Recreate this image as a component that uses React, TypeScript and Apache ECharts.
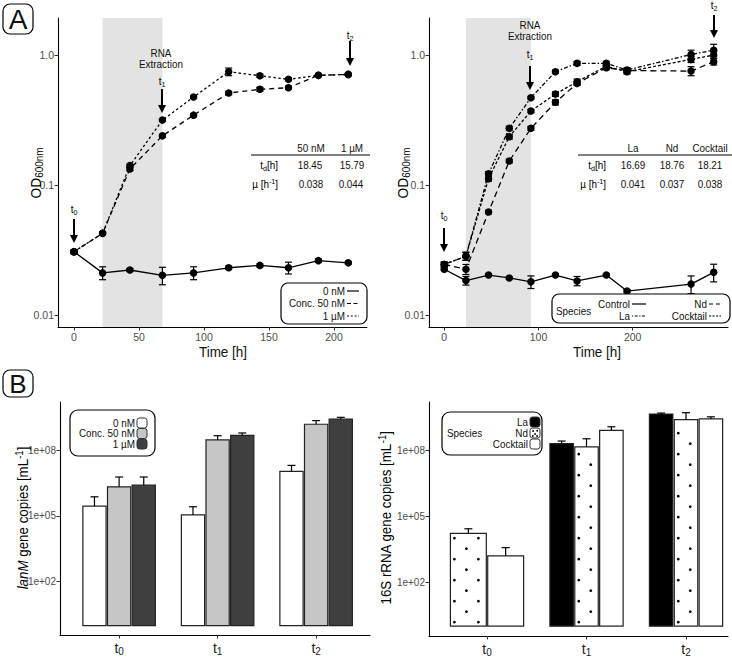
import React, { useEffect, useRef } from 'react';
import * as echarts from 'echarts';

const FONT = '"Liberation Sans", Arial, Helvetica, sans-serif';

// ---------- Panel A (left): OD600 by lanthanide concentration ----------
const timeConc = [0, 22, 43, 68, 92, 119, 143, 165, 188, 211];
const od0nM = [0.0307, 0.0211, 0.0222, 0.0202, 0.0211, 0.0231, 0.0241, 0.0231, 0.0262, 0.0252];
const sd0nM = [0.0006, 0.0024, 0.0006, 0.0031, 0.0024, 0.0007, 0.0006, 0.0024, 0.0008, 0.0005];
const od50nM = [0.0307, 0.0425, 0.133, 0.239, 0.345, 0.51, 0.545, 0.561, 0.698, 0.71];
const sd50nM = [0.001, 0.001, 0.004, 0.006, 0.01, 0.015, 0.02, 0.015, 0.012, 0.012];
const od1uM = [0.0307, 0.0425, 0.141, 0.316, 0.475, 0.744, 0.693, 0.65, 0.698, 0.71];
const sd1uM = [0.001, 0.001, 0.004, 0.006, 0.01, 0.05, 0.02, 0.015, 0.012, 0.012];
const shadeConc = [22, 68];

// ---------- Panel A (right): OD600 by lanthanide species ----------
const timeSpecies = [0, 23, 47, 69, 92, 118, 141, 172, 194, 262, 286];
const odControl = [0.0225, 0.0184, 0.0203, 0.0193, 0.018, 0.0203, 0.0183, 0.0203, 0.0153, 0.0173, 0.0213];
const sdControl = [0.0005, 0.0014, 0.0005, 0.0004, 0.002, 0.0005, 0.0015, 0.0004, 0.0004, 0.0027, 0.0033];
const odLa = [0.0245, 0.0284, 0.122, 0.273, 0.47, 0.744, 0.863, 0.863, 0.767, 1.01, 1.09];
const sdLa = [0.001, 0.002, 0.005, 0.01, 0.01, 0.02, 0.03, 0.03, 0.03, 0.08, 0.12];
const odNd = [0.0245, 0.0225, 0.062, 0.153, 0.273, 0.433, 0.605, 0.8, 0.76, 0.753, 0.888];
const sdNd = [0.001, 0.002, 0.002, 0.005, 0.01, 0.02, 0.02, 0.03, 0.03, 0.06, 0.05];
const odCocktail = [0.0245, 0.0284, 0.112, 0.235, 0.371, 0.501, 0.623, 0.82, 0.744, 0.926, 1.0];
const sdCocktail = [0.001, 0.002, 0.005, 0.01, 0.01, 0.02, 0.03, 0.03, 0.03, 0.05, 0.06];
const shadeSpecies = [23, 92];

// ---------- Panel B (left): lanM gene copies ----------
const sampleTimes = ['0', '1', '2']; // t0, t1, t2
const copies0nM = [2.8e5, 1.1e5, 1.07e7];
const copiesSd0nM = [4.6e5, 1.5e5, 0.93e7];
const copies50nM = [2.1e6, 2.9e8, 1.5e9];
const copiesSd50nM = [3.8e6, 1.6e8, 0.7e9];
const copies1uM = [2.5e6, 4.7e8, 2.6e9];
const copiesSd1uM = [3.4e6, 1.3e8, 0.5e9];

// ---------- Panel B (right): 16S rRNA gene copies ----------
const rrnaLa = [null, 2.1e8, 4.7e9];
const rrnaSdLa = [null, 0.65e8, 0.5e9];
const rrnaNd = [1.7e4, 1.5e8, 2.6e9];
const rrnaSdNd = [1.05e4, 2.0e8, 2.8e9];
const rrnaCocktail = [1.6e3, 8.5e8, 2.8e9];
const rrnaSdCocktail = [2.2e3, 3.8e8, 0.7e9];

// tables
const concHeaders = ['50 nM', '1 µM'];
const concTd = ['18.45', '15.79'];
const concMu = ['0.038', '0.044'];
const speciesHeaders = ['La', 'Nd', 'Cocktail'];
const speciesTd = ['16.69', '18.76', '18.21'];
const speciesMu = ['0.041', '0.037', '0.038'];

const lg = Math.log10;

const subRich = (fs: number) => ({
  a: { fontSize: fs, fontFamily: FONT, lineHeight: fs + 3, fill: '#000', color: '#000' },
  i: { fontSize: fs, fontFamily: FONT, fontStyle: 'italic', lineHeight: fs + 3, fill: '#000', color: '#000' },
  s: { fontSize: fs * 0.72, fontFamily: FONT, lineHeight: fs * 0.62, verticalAlign: 'bottom', fill: '#000', color: '#000' },
  sup: { fontSize: fs * 0.72, fontFamily: FONT, lineHeight: fs * 0.62, verticalAlign: 'top', fill: '#000', color: '#000' },
});

function txt(text: string, x: number, y: number, opts: any = {}, fs = 11, rotation = 0, sx = 0.9): any {
  return {
    type: 'text', x, y, rotation, scaleX: sx, silent: true, z: 100,
    style: {
      text, fontSize: fs, fontFamily: FONT, fill: '#111', align: 'center', verticalAlign: 'middle',
      rich: subRich(fs), ...opts,
    },
  };
}

function arrow(x: number, y1: number, y2: number): any[] {
  return [
    { type: 'line', silent: true, z: 100, shape: { x1: x, y1, x2: x, y2: y2 - 6 }, style: { stroke: '#000', lineWidth: 2 } },
    { type: 'polygon', silent: true, z: 100, shape: { points: [[x - 4, y2 - 8], [x + 4, y2 - 8], [x, y2]] }, style: { fill: '#000' } },
  ];
}

function hline(x1: number, x2: number, y: number, dash: any, w = 1.2): any {
  return { type: 'line', silent: true, z: 100, shape: { x1, y1: y, x2, y2: y }, style: { stroke: '#000', lineWidth: w, lineDash: dash } };
}

function box(x: number, y: number, w: number, h: number, r: number): any {
  return { type: 'rect', silent: true, z: 50, shape: { x, y, width: w, height: h, r }, style: { fill: '#fff', stroke: '#000', lineWidth: 1.2 } };
}

function key(x: number, y: number, fill: string, dots = false): any[] {
  const els: any[] = [
    { type: 'rect', silent: true, z: 100, shape: { x, y: y - 5, width: 10, height: 10, r: 2.5 }, style: { fill, stroke: '#333', lineWidth: 1 } },
  ];
  if (dots) {
    [[3, -2], [7.2, -2.2], [5, 1], [2.8, 3], [7, 3]].forEach(([dx, dy]) =>
      els.push({ type: 'circle', silent: true, z: 101, shape: { cx: x + dx, cy: y + dy, r: 0.9 }, style: { fill: '#000' } }));
  }
  return els;
}

const axisBase = {
  axisLine: { show: true, onZero: false, lineStyle: { color: '#000', width: 1.1 } },
  splitLine: { show: false },
};
const tickStyle = (vals: number[]) => ({ show: true, customValues: vals, length: 3.5, lineStyle: { color: '#333', width: 1 } });
const labelStyle = (vals: number[], formatter: any, extra: any = {}) => ({
  customValues: vals, formatter, color: '#4d4d4d', fontSize: 10.5, fontFamily: FONT, margin: 4, ...extra,
});

function lineSeries(idx: number, times: number[], vals: number[], dash: any): any {
  return {
    type: 'line', xAxisIndex: idx, yAxisIndex: idx, z: 5, silent: true,
    data: times.map((t, i) => [t, lg(vals[i])]),
    symbol: 'circle', symbolSize: 7.5, itemStyle: { color: '#000' },
    lineStyle: { color: '#000', width: 1.3, type: dash },
  };
}

function errSeries(idx: number, times: number[], vals: number[], sds: number[]): any {
  return {
    type: 'custom', xAxisIndex: idx, yAxisIndex: idx, z: 4, silent: true,
    data: times.map((t, i) => [t, lg(vals[i] - sds[i]), lg(vals[i] + sds[i])]),
    encode: { x: 0, y: [1, 2] },
    renderItem: (params: any, api: any) => {
      const x = api.value(0);
      const lo = api.coord([x, api.value(1)]);
      const hi = api.coord([x, api.value(2)]);
      const st = { stroke: '#000', lineWidth: 1.2 };
      const c = 3.5;
      return {
        type: 'group', children: [
          { type: 'line', shape: { x1: lo[0], y1: lo[1], x2: hi[0], y2: hi[1] }, style: st },
          { type: 'line', shape: { x1: lo[0] - c, y1: lo[1], x2: lo[0] + c, y2: lo[1] }, style: st },
          { type: 'line', shape: { x1: hi[0] - c, y1: hi[1], x2: hi[0] + c, y2: hi[1] }, style: st },
        ],
      };
    },
  };
}

function shadeSeries(idx: number, range: number[]): any {
  return {
    type: 'custom', xAxisIndex: idx, yAxisIndex: idx, z: 1, silent: true,
    data: [[range[0], range[1]]],
    encode: { x: [0, 1] },
    renderItem: (params: any, api: any) => {
      const cs = params.coordSys;
      const a = api.coord([api.value(0), 0]);
      const b = api.coord([api.value(1), 0]);
      return { type: 'rect', shape: { x: a[0], y: cs.y, width: b[0] - a[0], height: cs.height }, style: { fill: '#e3e3e3' } };
    },
  };
}

// dodge layout: bars of a group share 0.75 of a category unit
function barSeries(idx: number, all: (number | null)[][], which: number, sds: (number | null)[], fill: string, dots = false): any {
  const vals = all[which];
  const data: any[] = [];
  vals.forEach((v, g) => {
    if (v == null) return;
    const present = all.map((s, k) => (s[g] != null ? k : -1)).filter((k) => k >= 0);
    const n = present.length;
    const pos = present.indexOf(which);
    const step = 0.75 / n;
    const off = (pos - (n - 1) / 2) * step;
    data.push([g + 1 + off, lg(v), lg(v + (sds[g] as number)), step - 0.014]);
  });
  return {
    type: 'custom', xAxisIndex: idx, yAxisIndex: idx, z: 3, silent: true,
    data, encode: { x: 0, y: 1 },
    renderItem: (params: any, api: any) => {
      const x = api.value(0);
      const top = api.coord([x, api.value(1)]);
      const base = api.coord([x, 0]);
      const err = api.coord([x, api.value(2)]);
      const w = api.size([api.value(3), 0])[0];
      const left = top[0] - w / 2;
      const children: any[] = [
        { type: 'rect', shape: { x: left, y: top[1], width: w, height: base[1] - top[1] }, style: { fill, stroke: '#222', lineWidth: 1.2 } },
      ];
      if (dots) {
        for (let k = 0; ; k++) {
          const y = base[1] - 4 - k * 10.5;
          if (y < top[1] + 3) break;
          const x0 = k % 2 === 0 ? 4 : 16;
          for (let xx = x0; xx < w - 2; xx += 24) {
            children.push({ type: 'circle', shape: { cx: left + xx, cy: y, r: 1.4 }, style: { fill: '#000' } });
          }
        }
      }
      const st = { stroke: '#000', lineWidth: 1.2 };
      children.push({ type: 'line', shape: { x1: top[0], y1: top[1], x2: err[0], y2: err[1] }, style: st });
      children.push({ type: 'line', shape: { x1: err[0] - 4, y1: err[1], x2: err[0] + 4, y2: err[1] }, style: st });
      return { type: 'group', children };
    },
  };
}

export default function App() {
  const ref = useRef<HTMLDivElement>(null);
  useEffect(() => {
    if (!ref.current) return;
    const chart = echarts.init(ref.current, undefined, { renderer: 'svg' });

    const tRich = {
      t: { fontSize: 14, fontFamily: FONT, color: '#222', lineHeight: 17 },
      s: { fontSize: 10, fontFamily: FONT, color: '#222', lineHeight: 9, verticalAlign: 'bottom' },
    };
    const odFmt = (v: number) => (v === 0 ? '1.0' : v === -1 ? '0.1' : '0.01');
    const sciFmt = (v: number) => '1e+0' + Math.round(v);

    const grids = [
      { left: 58, top: 18, width: 309, height: 309 },
      { left: 429, top: 18, width: 299, height: 309 },
      { left: 60, top: 402, width: 310, height: 233 },
      { left: 429, top: 402, width: 299, height: 234 },
    ].map((g) => ({ ...g, containLabel: false, outerBoundsMode: 'none' }));

    const xAxes = [
      { type: 'value', gridIndex: 0, min: -12.3, max: 225.4, ...axisBase, axisTick: tickStyle([0, 50, 100, 150, 200]), axisLabel: labelStyle([0, 50, 100, 150, 200], undefined) },
      { type: 'value', gridIndex: 1, min: -16.2, max: 301.2, ...axisBase, axisTick: tickStyle([0, 100, 200]), axisLabel: labelStyle([0, 100, 200], undefined) },
      { type: 'value', gridIndex: 2, min: 0.4, max: 3.547, ...axisBase, axisTick: tickStyle([1, 2, 3]), axisLabel: labelStyle([1, 2, 3], (v: number) => '{t|t}{s|' + sampleTimes[Math.round(v) - 1] + '}', { rich: tRich, margin: 4 }) },
      { type: 'value', gridIndex: 3, min: 0.417, max: 3.422, ...axisBase, axisTick: tickStyle([1, 2, 3]), axisLabel: labelStyle([1, 2, 3], (v: number) => '{t|t}{s|' + sampleTimes[Math.round(v) - 1] + '}', { rich: tRich, margin: 4 }) },
    ];
    const yAxes = [
      { type: 'value', gridIndex: 0, min: -2.092, max: 0.285, ...axisBase, axisTick: tickStyle([-2, -1, 0]), axisLabel: labelStyle([-2, -1, 0], odFmt) },
      { type: 'value', gridIndex: 1, min: -2.092, max: 0.285, ...axisBase, axisTick: tickStyle([-2, -1, 0]), axisLabel: labelStyle([-2, -1, 0], odFmt) },
      { type: 'value', gridIndex: 2, min: -0.43, max: 10.19, ...axisBase, axisTick: tickStyle([2, 5, 8]), axisLabel: labelStyle([2, 5, 8], sciFmt, { fontSize: 10 }) },
      { type: 'value', gridIndex: 3, min: -0.449, max: 10.22, ...axisBase, axisTick: tickStyle([2, 5, 8]), axisLabel: labelStyle([2, 5, 8], sciFmt, { fontSize: 10 }) },
    ];

    const concAll = [copies0nM, copies50nM, copies1uM];
    const speciesAll = [rrnaLa, rrnaNd, rrnaCocktail];

    const series: any[] = [
      shadeSeries(0, shadeConc),
      errSeries(0, timeConc, od0nM, sd0nM),
      errSeries(0, timeConc, od50nM, sd50nM),
      errSeries(0, timeConc, od1uM, sd1uM),
      lineSeries(0, timeConc, od0nM, 'solid'),
      lineSeries(0, timeConc, od50nM, [5, 4]),
      lineSeries(0, timeConc, od1uM, [2.5, 2.5]),
      shadeSeries(1, shadeSpecies),
      errSeries(1, timeSpecies, odControl, sdControl),
      errSeries(1, timeSpecies, odLa, sdLa),
      errSeries(1, timeSpecies, odNd, sdNd),
      errSeries(1, timeSpecies, odCocktail, sdCocktail),
      lineSeries(1, timeSpecies, odControl, 'solid'),
      lineSeries(1, timeSpecies, odLa, [1.5, 2, 4, 2]),
      lineSeries(1, timeSpecies, odNd, [6, 4]),
      lineSeries(1, timeSpecies, odCocktail, [3, 2]),
      barSeries(2, concAll, 0, copiesSd0nM, '#ffffff'),
      barSeries(2, concAll, 1, copiesSd50nM, '#c6c6c6'),
      barSeries(2, concAll, 2, copiesSd1uM, '#3f3f3f'),
      barSeries(3, speciesAll, 0, rrnaSdLa, '#000000'),
      barSeries(3, speciesAll, 1, rrnaSdNd, '#ffffff', true),
      barSeries(3, speciesAll, 2, rrnaSdCocktail, '#ffffff'),
    ];

    const graphic: any[] = [
      // panel letters
      box(3, 4, 30, 30, 7), txt('A', 18, 19.5, {}, 28, 0, 1),
      box(3, 370, 30, 27, 7), txt('B', 18, 384, {}, 26, 0, 1),
      // axis titles
      txt('Time [h]', 223, 352, {}, 15, 0, 0.9),
      txt('Time [h]', 597, 352, {}, 15, 0, 0.9),
      txt('{a|OD}{s|600nm}', 36, 173, {}, 15, Math.PI / 2, 0.92),
      txt('{a|OD}{s|600nm}', 403, 173, {}, 15, Math.PI / 2, 0.92),
      txt('{i|lanM}{a| gene copies [mL}{sup|-1}{a|]}', 23, 518, {}, 14.5, Math.PI / 2, 0.92),
      txt('{a|16S rRNA gene copies [mL}{sup|-1}{a|]}', 386, 518, {}, 14.5, Math.PI / 2, 0.92),
      // annotations left
      txt('RNA', 161, 53), txt('Extraction', 161, 64),
      txt('{a|t}{s|1}', 162, 81), ...arrow(162, 89, 113),
      txt('{a|t}{s|2}', 350, 35), ...arrow(350, 41, 66),
      txt('{a|t}{s|0}', 74, 209), ...arrow(74, 219, 243),
      // annotations right
      txt('RNA', 530, 25), txt('Extraction', 530, 36),
      txt('{a|t}{s|1}', 530, 54), ...arrow(530, 66, 90),
      txt('{a|t}{s|2}', 714, 5), ...arrow(714, 15, 38),
      txt('{a|t}{s|0}', 444, 215), ...arrow(444, 228, 252),
      // table left
      ...concHeaders.map((h, i) => txt(h, [311, 352][i], 148)),
      hline(251, 370, 155, null, 1),
      txt('{a|t}{s|d}{a|[h]}', 278, 165, { align: 'right' }),
      ...concTd.map((v, i) => txt(v, [310, 352][i], 165)),
      txt('{a|µ [h}{sup|-1}{a|]}', 278, 184, { align: 'right' }),
      ...concMu.map((v, i) => txt(v, [311, 351][i], 184)),
      // table right
      ...speciesHeaders.map((h, i) => txt(h, [633, 672, 710][i], 148)),
      hline(578, 732, 155, null, 1),
      txt('{a|t}{s|d}{a|[h]}', 606, 165, { align: 'right' }),
      ...speciesTd.map((v, i) => txt(v, [633, 672, 710][i], 165)),
      txt('{a|µ [h}{sup|-1}{a|]}', 606, 184, { align: 'right' }),
      ...speciesMu.map((v, i) => txt(v, [633, 672, 710][i], 184)),
      // legend A left
      box(281, 283, 86, 41, 7),
      txt('0 nM', 345, 291, { align: 'right' }), hline(347, 359, 291, null),
      txt('Conc. 50 nM', 345, 303.5, { align: 'right' }), hline(347, 359, 303.5, [4, 2.5]),
      txt('1 µM', 345, 316, { align: 'right' }), hline(347, 359, 316, [2, 1.8]),
      // legend A right
      box(552, 294, 178, 29, 7),
      txt('Species', 556, 311, { align: 'left' }),
      txt('Control', 630, 304, { align: 'right' }), hline(632, 646, 304, null),
      txt('La', 630, 316, { align: 'right' }), hline(632, 646, 316, [1.2, 1.5, 3, 1.5]),
      txt('Nd', 707, 304, { align: 'right' }), hline(709, 721, 304, [4, 3]),
      txt('Cocktail', 707, 316, { align: 'right' }), hline(709, 721, 316, [2.2, 1.3]),
      // legend B left
      box(70, 410, 85, 46, 8),
      txt('0 nM', 135, 423, { align: 'right' }), ...key(137, 423, '#ffffff'),
      txt('Conc. 50 nM', 135, 433.5, { align: 'right' }), ...key(137, 433.5, '#c6c6c6'),
      txt('1 µM', 135, 444, { align: 'right' }), ...key(137, 444, '#3f3f3f'),
      // legend B right
      box(442, 412, 100, 43, 8),
      txt('Species', 447, 433, { align: 'left' }),
      txt('La', 528, 422, { align: 'right' }), ...key(530, 422, '#000000'),
      txt('Nd', 528, 433, { align: 'right' }), ...key(530, 433, '#ffffff', true),
      txt('Cocktail', 528, 444, { align: 'right' }), ...key(530, 444, '#ffffff'),
    ];

    chart.setOption({
      animation: false,
      backgroundColor: '#ffffff',
      textStyle: { fontFamily: FONT },
      grid: grids,
      xAxis: xAxes,
      yAxis: yAxes,
      series,
      graphic,
    });
    return () => chart.dispose();
  }, []);
  return <div ref={ref} style={{ position: 'absolute', left: 0, top: 0, width: 732, height: 659 }} />;
}
